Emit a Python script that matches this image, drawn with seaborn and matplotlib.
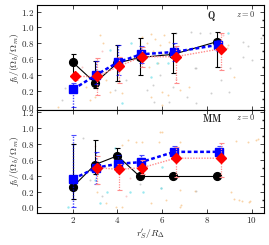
import numpy as np
import pandas as pd
import matplotlib
matplotlib.use("Agg")
import matplotlib.pyplot as plt
import seaborn as sns
from matplotlib.ticker import FuncFormatter, MultipleLocator

# ---------------- data ----------------
# Top panel (Q)
q_black_x = [2.0, 3.0, 4.0, 5.0, 6.5, 8.45]
q_black_y = [0.56, 0.30, 0.55, 0.62, 0.66, 0.82]
q_black_lo = [0.40, 0.23, 0.32, 0.40, 0.42, 0.50]
q_black_hi = [0.67, 0.57, 0.78, 0.87, 0.93, 0.94]

q_blue_x = [2.03, 3.05, 4.02, 5.05, 6.55, 8.5]
q_blue_y = [0.22, 0.40, 0.56, 0.66, 0.69, 0.78]
q_blue_lo = [0.00, 0.28, 0.40, 0.55, 0.58, 0.70]
q_blue_hi = [0.30, 0.58, 0.78, 0.76, 0.80, 0.84]

q_red_x = [2.1, 3.1, 4.07, 5.1, 6.6, 8.62]
q_red_y = [0.38, 0.38, 0.51, 0.63, 0.63, 0.73]
q_red_lo = [0.33, 0.15, 0.30, 0.50, 0.30, 0.46]
q_red_hi = [0.43, 0.61, 0.62, 0.75, 0.76, 0.93]

# Bottom panel (MM)
m_black_x = [2.0, 3.0, 4.0, 5.0, 6.5, 8.45]
m_black_y = [0.26, 0.54, 0.65, 0.39, 0.39, 0.39]
m_black_lo = [0.11, 0.42, 0.55, 0.39, 0.39, 0.39]
m_black_hi = [0.80, 0.85, 0.75, 0.39, 0.39, 0.39]

m_blue_x = [2.03, 3.05, 4.02, 5.05, 6.55, 8.55]
m_blue_y = [0.36, 0.50, 0.55, 0.57, 0.70, 0.70]
m_blue_lo = [0.01, 0.30, 0.45, 0.50, 0.64, 0.64]
m_blue_hi = [0.91, 0.70, 0.66, 0.66, 0.77, 0.77]

m_red_x = [3.1, 4.07, 5.1, 6.6, 8.62]
m_red_y = [0.50, 0.48, 0.50, 0.62, 0.62]
m_red_lo = [0.30, 0.22, 0.42, 0.38, 0.38]
m_red_hi = [0.65, 0.55, 0.60, 0.76, 0.81]

# background scatter (top)
q_bg_orange_x = [1.33, 2.76, 2.98, 3.2, 3.34, 2.6, 3.65, 3.5, 4.2, 8.96, 9.2, 7.2, 6.8, 6.0, 6.0, 6.25, 5.5,
                 5.1, 5.3, 5.5, 5.7, 5.9, 6.1, 6.3, 5.2, 5.6, 6.0, 5.4, 5.8, 8.9]
q_bg_orange_y = [0.00, 0.08, 0.12, 0.90, 0.80, 0.25, 0.19, 0.34, 0.17, 0.78, 0.37, 0.25, 0.21, 0.19, 0.02, 0.15, 0.12,
                 0.88, 0.80, 0.92, 0.85, 0.78, 0.90, 0.82, 0.60, 0.70, 0.66, 0.50, 0.55, 0.74]
q_bg_gray_x = [1.65, 1.5, 4.4, 3.9, 6.6, 7.3, 7.7, 8.15, 9.6, 9.85, 10.4, 9.05, 7.5, 5.3, 6.3, 7.1, 5.6,
               7.45, 9.6, 10.0, 8.65, 8.2, 9.0, 6.5, 5.65, 7.5, 5.9]
q_bg_gray_y = [0.24, 0.08, 0.34, 0.21, 0.93, 0.94, 0.93, 0.93, 0.82, 0.76, 0.87, 0.49, 0.49, 0.21, 0.06, 0.12, 0.27,
               0.49, 0.63, 0.59, 0.34, 0.17, 0.19, 0.25, 0.06, 0.04, 0.40]
q_bg_cyan_x = [4.6, 4.2, 3.65, 8.96, 5.75, 6.25, 5.5]
q_bg_cyan_y = [0.80, 0.05, 0.71, 0.93, 0.55, 0.55, 0.37]
q_bg_pink_x = [4.2, 2.4, 3.3, 8.7, 6.6]
q_bg_pink_y = [0.50, 0.50, 0.70, 0.90, 0.35]

# background scatter (bottom)
m_bg_orange_x = [4.45, 4.85, 4.2, 3.1, 3.5, 3.95, 4.2, 6.0, 5.85, 5.1, 9.3, 9.85, 10.3, 6.15, 6.8, 9.2, 9.55,
                 9.95, 6.85, 6.8, 7.45, 9.1, 9.45, 9.9, 5.5, 5.9, 6.8, 10.2]
m_bg_orange_y = [0.85, 0.83, 0.78, 0.19, 0.06, 0.01, 0.01, 0.95, 0.82, 0.82, 0.84, 0.82, 0.86, 0.10, 0.01, 0.11, 0.08,
                 0.08, 0.03, 0.22, 0.21, 0.19, 0.10, 0.07, 0.06, 0.95, 0.82, 0.85]
m_bg_gray_x = [2.45, 3.3, 5.0, 2.75, 7.5, 5.95]
m_bg_gray_y = [0.88, 0.14, 0.29, 0.35, 0.21, 0.25]
m_bg_cyan_x = [3.9, 1.78, 3.2, 3.55, 4.55, 3.0, 6.0, 5.15, 5.95]
m_bg_cyan_y = [0.75, 0.01, 0.06, 0.20, 0.20, 0.35, 0.51, 0.19, 0.25]
m_bg_pink_x = [3.0, 4.4, 4.55]
m_bg_pink_y = [0.77, 0.14, 0.37]

xtick_vals = [2, 4, 6, 8, 10]
ytick_vals = [0.0, 0.2, 0.4, 0.6, 0.8, 1.0, 1.2]

# ---------------- style ----------------
sns.set_theme(style="ticks")
plt.rcParams.update({
    "font.family": ["DejaVu Serif"],
    "mathtext.fontset": "cm",
    "xtick.direction": "in",
    "ytick.direction": "in",
    "xtick.top": True,
    "ytick.right": True,
    "xtick.major.size": 3,
    "ytick.major.size": 3,
    "xtick.minor.size": 1.5,
    "ytick.minor.size": 1.5,
    "xtick.major.width": 0.6,
    "ytick.major.width": 0.6,
    "axes.linewidth": 0.8,
    "axes.edgecolor": "black",
})

fig = plt.figure(figsize=(2.69, 2.45), dpi=100)
ax1 = fig.add_axes([0.1375, 0.549, 0.8435, 0.431])
ax2 = fig.add_axes([0.1375, 0.132, 0.8435, 0.417], sharex=ax1)

BLUE = "#0000ff"
RED = "#ff0000"
PINK = "#ff8c8c"


def background(ax, ox, oy, gx, gy, cx, cy, px, py):
    sns.scatterplot(x=ox, y=oy, color="#f5b060", s=2, linewidth=0, alpha=0.55, ax=ax, legend=False, zorder=1)
    sns.scatterplot(x=gx, y=gy, color="#a8a8a8", s=2, linewidth=0, alpha=0.55, ax=ax, legend=False, zorder=1)
    sns.scatterplot(x=cx, y=cy, color="#70e0ea", s=3, linewidth=0, alpha=0.7, ax=ax, legend=False, zorder=1)
    sns.scatterplot(x=px, y=py, color="#f5a0a0", s=2, linewidth=0, alpha=0.55, ax=ax, legend=False, zorder=1)


def series(ax, bx, by, blo, bhi, ux, uy, ulo, uhi, rx, ry, rlo, rhi):
    bx, by, blo, bhi = map(np.array, (bx, by, blo, bhi))
    ux, uy, ulo, uhi = map(np.array, (ux, uy, ulo, uhi))
    rx, ry, rlo, rhi = map(np.array, (rx, ry, rlo, rhi))
    # black
    sns.lineplot(x=bx, y=by, color="black", lw=0.8, estimator=None, sort=False, ax=ax, zorder=3)
    ax.errorbar(bx, by, yerr=[by - blo, bhi - by], fmt="none", ecolor="black", elinewidth=0.8,
                capsize=1.8, capthick=0.8, zorder=3)
    ax.plot(bx, by, "o", color="black", ms=5.6, zorder=4)
    # blue
    sns.lineplot(x=ux, y=uy, color=BLUE, lw=1.8, estimator=None, sort=False, ax=ax, zorder=5,
                 linestyle=(0, (1.5, 1.0)))
    eb = ax.errorbar(ux, uy, yerr=[uy - ulo, uhi - uy], fmt="none", ecolor=BLUE, elinewidth=1.0,
                     capsize=1.8, capthick=0.8, zorder=5, alpha=0.7)
    eb[2][0].set_linestyle((0, (1, 1)))
    ax.plot(ux, uy, "s", color=BLUE, ms=5.6, zorder=6)
    # red
    sns.lineplot(x=rx, y=ry, color=PINK, lw=1.0, estimator=None, sort=False, ax=ax, zorder=7,
                 linestyle=(0, (1, 1)))
    eb = ax.errorbar(rx, ry, yerr=[ry - rlo, rhi - ry], fmt="none", ecolor=PINK, elinewidth=0.9,
                     capsize=1.8, capthick=0.8, zorder=7)
    eb[2][0].set_linestyle((0, (1, 1)))
    ax.plot(rx, ry, "D", color=RED, ms=4.8, zorder=8)


background(ax1, q_bg_orange_x, q_bg_orange_y, q_bg_gray_x, q_bg_gray_y,
           q_bg_cyan_x, q_bg_cyan_y, q_bg_pink_x, q_bg_pink_y)
series(ax1, q_black_x, q_black_y, q_black_lo, q_black_hi,
       q_blue_x, q_blue_y, q_blue_lo, q_blue_hi,
       q_red_x, q_red_y, q_red_lo, q_red_hi)

background(ax2, m_bg_orange_x, m_bg_orange_y, m_bg_gray_x, m_bg_gray_y,
           m_bg_cyan_x, m_bg_cyan_y, m_bg_pink_x, m_bg_pink_y)
series(ax2, m_black_x, m_black_y, m_black_lo, m_black_hi,
       m_blue_x, m_blue_y, m_blue_lo, m_blue_hi,
       m_red_x, m_red_y, m_red_lo, m_red_hi)

ax1.set_xlim(0.4, 10.55)
ax1.set_ylim(-0.05, 1.285)
ax2.set_ylim(-0.065, 1.22)

yfmt = FuncFormatter(lambda v, p: r"$%.1f$" % v)
xfmt = FuncFormatter(lambda v, p: r"$%d$" % int(round(v)))
for ax in (ax1, ax2):
    ax.set_yticks(ytick_vals)
    ax.yaxis.set_major_formatter(yfmt)
    ax.yaxis.set_minor_locator(MultipleLocator(0.1))
    ax.set_xticks(xtick_vals)
    ax.tick_params(labelsize=6.5, pad=2)
    ax.tick_params(which="minor", left=False, right=True)
    ax.set_ylabel(r"$f_b/(\Omega_b/\Omega_m)$", fontsize=7, labelpad=0)
ax1.tick_params(labelbottom=False)
ax2.xaxis.set_major_formatter(xfmt)
ax2.set_xlabel(r"$r_S'/R_\Delta$", fontsize=7, labelpad=1)

ax1.text(0.77, 0.965, r"$\mathbf{Q}$", transform=ax1.transAxes, fontsize=7, va="top", ha="center")
ax1.text(0.92, 0.965, r"$z=0$", transform=ax1.transAxes, fontsize=6, va="top", ha="center", color="#333333")
ax2.text(0.77, 0.985, r"$\mathbf{MM}$", transform=ax2.transAxes, fontsize=7, va="top", ha="center")
ax2.text(0.92, 0.985, r"$z=0$", transform=ax2.transAxes, fontsize=6, va="top", ha="center", color="#333333")

fig.savefig("out.png", dpi=100)
